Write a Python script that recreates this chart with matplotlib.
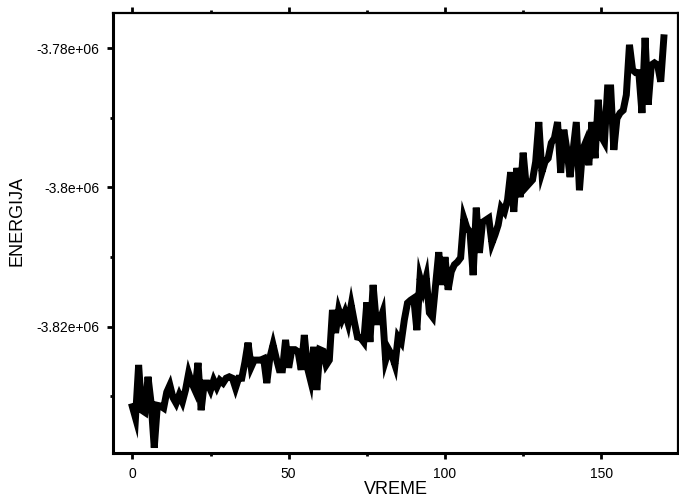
import matplotlib
matplotlib.use("Agg")
import matplotlib.pyplot as plt
from matplotlib.ticker import MultipleLocator
import numpy as np

# energy per time step
energija = [
    -3831500, -3833100, -3825500, -3832000, -3832300, -3827200, -3831000, -3837400, -3831300, -3831400,
    -3831700, -3829400, -3828400, -3830200, -3831000, -3829800, -3830800, -3829100, -3826700, -3828100,
    -3829100, -3825200, -3832000, -3828100, -3828100, -3829100, -3827700, -3828700, -3827700, -3828100,
    -3827400, -3827200, -3827400, -3828800, -3827400, -3827400, -3825100, -3822300, -3825800, -3824800,
    -3824800, -3824800, -3824600, -3828100, -3824400, -3822600, -3824500, -3826200, -3826200, -3821900,
    -3825900, -3823300, -3823300, -3823600, -3826200, -3821200, -3825900, -3827700, -3822900, -3829100,
    -3823300, -3823500, -3825500, -3824800, -3817600, -3820900, -3817600, -3819000, -3817900, -3819500,
    -3816900, -3819300, -3821500, -3821600, -3822200, -3816500, -3822200, -3814000, -3819300, -3819300,
    -3818000, -3824800, -3823300, -3824100, -3825500, -3821500, -3822200, -3819000, -3816600, -3816200,
    -3815900, -3820500, -3813000, -3814700, -3812900, -3818000, -3818600, -3814000, -3809300, -3814000,
    -3810000, -3814700, -3812100, -3811100, -3810700, -3810100, -3804400, -3805800, -3806400, -3812600,
    -3802900, -3809400, -3805000, -3804700, -3804400, -3808000, -3806800, -3805400, -3802900, -3803500,
    -3801800, -3797800, -3803500, -3797200, -3801400, -3795000, -3799900, -3799400, -3798900, -3796300,
    -3790600, -3797800, -3796300, -3795800, -3793600, -3792900, -3790600, -3797900, -3791700, -3794600,
    -3798500, -3794600, -3790600, -3800400, -3794600, -3793500, -3796800, -3790600, -3795800, -3787400,
    -3792700, -3793500, -3785700, -3785700, -3794600, -3790100, -3789300, -3788900, -3786700, -3779500,
    -3783100, -3783500, -3783500, -3789300, -3778500, -3788100, -3782400, -3782100, -3782400, -3784800,
    -3778500,
]
vreme = np.arange(len(energija))

x_ticks = [0, 50, 100, 150]
y_ticks = [-3.82e6, -3.8e6, -3.78e6]
y_tick_labels = ["-3.82e+06", "-3.8e+06", "-3.78e+06"]

plt.rcParams["font.family"] = ["Liberation Sans", "DejaVu Sans"]
plt.rcParams["axes.unicode_minus"] = False

fig = plt.figure(figsize=(6.79, 5.03), dpi=100)
ax = fig.add_axes([0.1664, 0.0994, 0.832, 0.8748])

ax.plot(vreme, energija, color="black", linewidth=5, solid_joinstyle="miter")

ax.set_xlim(-6.2, 174.5)
ax.set_ylim(-3838150, -3774930)

ax.set_xticks(x_ticks)
ax.set_yticks(y_ticks)
ax.set_yticklabels(y_tick_labels)
ax.xaxis.set_minor_locator(MultipleLocator(25))
ax.yaxis.set_minor_locator(MultipleLocator(10000))

ax.tick_params(which="major", direction="out", length=4.3, width=2, labelsize=10, pad=5.5,
               top=True, right=False)
ax.tick_params(which="minor", direction="out", length=2, width=2, top=True, right=False)

for side in ["left", "bottom"]:
    ax.spines[side].set_linewidth(2.2)
for side in ["top", "right"]:
    ax.spines[side].set_linewidth(1.6)

ax.set_xlabel("VREME", fontsize=13)
ax.set_ylabel("ENERGIJA", fontsize=13)
ax.xaxis.set_label_coords(0.5, -0.064)
ax.yaxis.set_label_coords(-0.155, 0.527)

fig.savefig("out.png", dpi=100)
